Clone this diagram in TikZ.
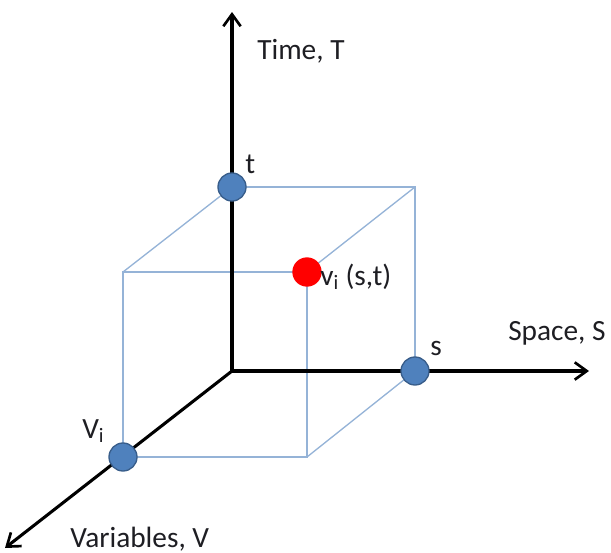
\documentclass[tikz,border=0pt]{standalone}
\usepackage{fontspec}
\setmainfont{Carlito}
\usetikzlibrary{arrows.meta}
\definecolor{colDot}{RGB}{79, 129, 189}
\definecolor{colDotEdge}{RGB}{56, 93, 138}
\definecolor{colCube}{RGB}{149, 179, 215}
\definecolor{colPoint}{RGB}{255, 0, 0}
\definecolor{darkText}{RGB}{30, 30, 35}

\begin{document}
\begin{tikzpicture}[x=0.75pt, y=-0.75pt,
    >={Straight Barb[length=9pt, width=13pt, line width=2pt]}]

  % Frame of the picture (pixel units, y grows downwards)
  \useasboundingbox (0,0) rectangle (611,553);

  \tikzset{
    axis/.style={->, line width=2.3pt, black},
    cubeedge/.style={colCube, line width=1pt},
    axisdot/.style={circle, fill=colDot, draw=colDotEdge, line width=1pt,
      minimum size=21pt, inner sep=0pt},
    pointdot/.style={circle, fill=colPoint, minimum size=22pt, inner sep=0pt},
    lbl/.style={font=\fontsize{22}{26}\selectfont, text=darkText,
      inner sep=0pt, anchor=base west}
  }

  % Cube corners: back face on the axes, front face shifted towards V
  \coordinate (O)   at (232,371);
  \coordinate (bT)  at (232,187);
  \coordinate (bTS) at (415,187);
  \coordinate (bS)  at (415,371);
  \coordinate (fT)  at (123,272);
  \coordinate (fTS) at (307,272);
  \coordinate (fS)  at (307,457);
  \coordinate (fO)  at (123,457);

  % Axis ends
  \coordinate (endT) at (232,12);
  \coordinate (endS) at (589,371);
  \coordinate (endV) at (5,548);

  % Cube outline
  \draw[cubeedge] (bT) -- (bTS) -- (bS);
  \draw[cubeedge] (fT) -- (fTS) -- (fS) -- (fO) -- cycle;
  \draw[cubeedge] (bT) -- (fT);
  \draw[cubeedge] (bTS) -- (fTS);
  \draw[cubeedge] (bS) -- (fS);

  % Axes
  \draw[axis] (O) -- (endT);
  \draw[axis] (O) -- (endS);
  \draw[axis] (O) -- (endV);

  % Points on the axes and in space
  \node[axisdot] (tdot) at (bT) {};
  \node[axisdot] (sdot) at (bS) {};
  \node[axisdot] (vdot) at (fO) {};
  \node[pointdot] (vst) at (fTS) {};

  % Labels
  \node[lbl] (timeLbl)  at (257,60)  {Time, T};
  \node[lbl] (spaceLbl) at (508,340) {Space, S};
  \node[lbl] (varLbl)   at (70,547)  {Variables, V};
  \node[lbl] (tLbl)     at (245,173) {t};
  \node[lbl] (sLbl)     at (430,355) {s};
  \node[lbl] (viLbl)    at (82,438)  {V\textsubscript{i}};
  \node[lbl] (vstLbl)   at (320,285) {v\textsubscript{i} (s,t)};

\end{tikzpicture}
\end{document}
